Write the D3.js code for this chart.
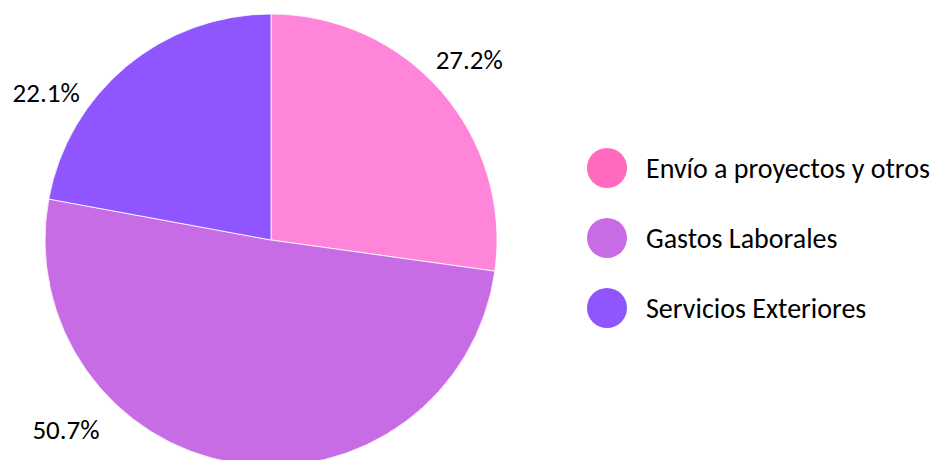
<!DOCTYPE html>
<html>
<head>
<meta charset="utf-8">
<script src="https://cdn.jsdelivr.net/npm/d3@7"></script>
<style>
  body { margin: 0; background: #fff; }
  text { font-family: Carlito, Calibri, Lato, "Open Sans", sans-serif; fill: #000; }
</style>
</head>
<body>
<div id="chart"></div>
<script>
var svgWidth = 939;
var svgHeight = 460;

// data
var categories = ["Envío a proyectos y otros", "Gastos Laborales", "Servicios Exteriores"];
var shares = [27.2, 50.7, 22.1];
var sliceColors = ["#FF85DB", "#C86CE6", "#8F55FF"];
var legendColors = ["#FF69BE", "#C86CE6", "#8F55FF"];

var svg = d3.select("#chart")
  .append("svg")
  .attr("width", svgWidth)
  .attr("height", svgHeight);

var cx = 271, cy = 240, radius = 226;

var pie = d3.pie().sort(null).value(d => d);
var arcs = pie(shares);

var arc = d3.arc().innerRadius(0).outerRadius(radius);

var pieGroup = svg.append("g")
  .attr("transform", `translate(${cx}, ${cy})`);

pieGroup.selectAll("path")
  .data(arcs)
  .enter()
  .append("path")
  .attr("d", arc)
  .attr("fill", (d, i) => sliceColors[i])
  .attr("stroke", "#fff")
  .attr("stroke-width", 0.8);

// percent labels outside the pie, placed like the original (bottom one moved since pie is clipped)
var labelPos = [
  { angle: 47.7, r: 268 },
  { angle: 227.3, r: 279 },
  { angle: 303.3, r: 269 }
];
pieGroup.selectAll("text.pct")
  .data(arcs)
  .enter()
  .append("text")
  .attr("class", "pct")
  .attr("transform", function(d, i) {
    var a = labelPos[i].angle * Math.PI / 180;
    var r = labelPos[i].r;
    return `translate(${Math.sin(a) * r}, ${-Math.cos(a) * r})`;
  })
  .attr("text-anchor", "middle")
  .attr("dy", "0.35em")
  .style("font-size", "27px")
  .text(d => d.data.toFixed(1) + "%");

// legend
var legend = svg.append("g")
  .attr("transform", "translate(607, 168)");

var items = legend.selectAll("g")
  .data(categories)
  .enter()
  .append("g")
  .attr("transform", (d, i) => `translate(0, ${i * 70})`);

items.append("circle")
  .attr("r", 20)
  .attr("fill", (d, i) => legendColors[i]);

items.append("text")
  .attr("x", 39)
  .attr("dy", "0.35em")
  .style("font-size", "28px")
  .text(d => d);
</script>
</body>
</html>
